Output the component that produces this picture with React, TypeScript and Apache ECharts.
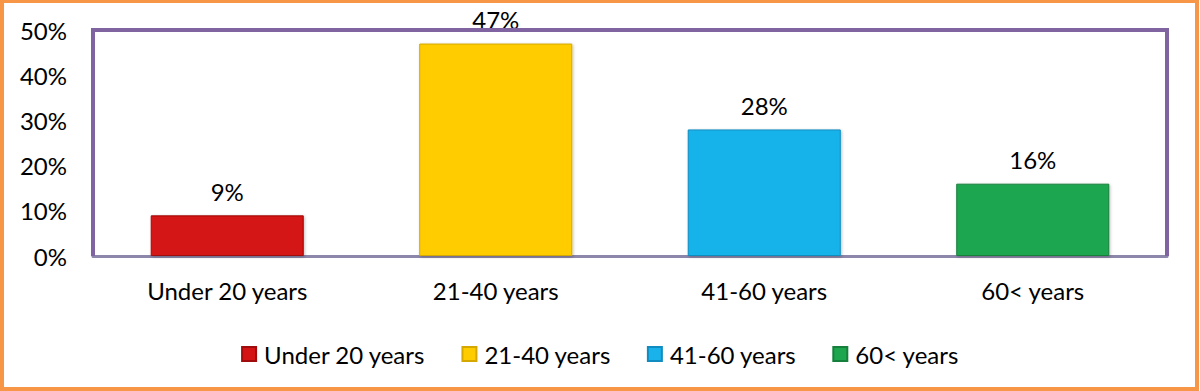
import React, { useEffect, useRef } from "react";
import * as echarts from "echarts";

const categories = ["Under 20 years", "21-40 years", "41-60 years", "60< years"];
const values = [9, 47, 28, 16];
const colors = ["#d41414", "#ffcc00", "#19b2ea", "#1ea64f"];
const borderColors = ["#a00c0c", "#d4a800", "#118cc0", "#15803b"];
const yTicks = [0, 10, 20, 30, 40, 50];

const FONT = "Lato";
const FS = 24;

export default function App() {
  const ref = useRef<HTMLDivElement>(null);
  useEffect(() => {
    if (!ref.current) return;
    const chart = echarts.init(ref.current, null, { renderer: "svg" });
    const gL = 93, gR = 1167, gT = 30, gB = 256;
    const series = categories.map((name, i) => ({
      name,
      type: "bar",
      stack: "all",
      barWidth: "57%",
      data: categories.map((_, j) => (j === i ? values[i] : "-")),
      itemStyle: {
        color: colors[i],
        borderColor: borderColors[i],
        borderWidth: 1,
        shadowColor: "rgba(0,0,0,0.25)",
        shadowBlur: 3,
        shadowOffsetX: 1,
        shadowOffsetY: 1,
      },
      label: {
        show: true,
        position: "top",
        distance: 12,
        formatter: "{c}%",
        fontFamily: FONT,
        fontSize: FS,
        color: "#000",
      },
    }));
    chart.setOption({
      animation: false,
      backgroundColor: "#fff",
      color: colors,
      grid: { left: gL, right: 1200 - gR, top: gT, bottom: 391 - gB, containLabel: false },
      xAxis: {
        type: "category",
        data: categories,
        axisTick: { show: false },
        axisLine: { show: true, lineStyle: { color: "#8d88ab", width: 3 } },
        axisLabel: { fontFamily: FONT, fontSize: FS, color: "#000", margin: 22 },
      },
      yAxis: {
        type: "value",
        min: yTicks[0],
        max: yTicks[yTicks.length - 1],
        interval: 10,
        splitLine: { show: false },
        axisLine: { show: false },
        axisTick: { show: false },
        axisLabel: { formatter: "{value}%", fontFamily: FONT, fontSize: FS, color: "#000", margin: 26 },
      },
      legend: {
        data: categories,
        left: "center",
        top: 337,
        itemWidth: 14,
        itemHeight: 14,
        itemGap: 36,
        icon: "rect",
        textStyle: { fontFamily: FONT, fontSize: FS, color: "#000", padding: [0, 0, 0, 3] },
      },
      graphic: [
        {
          type: "polyline",
          shape: { points: [[gL, gB], [gL, gT], [gR, gT], [gR, gB]] },
          style: { stroke: "#8064a2", lineWidth: 4, fill: null },
          z: 100,
        },
        {
          type: "rect",
          shape: { x: 2, y: 1, width: 1195, height: 388 },
          style: { stroke: "#f79646", lineWidth: 4, fill: null },
          z: 100,
        },
      ],
      series,
    });
    return () => chart.dispose();
  }, []);
  return (
    <div
      ref={ref}
      style={{ position: "fixed", left: 0, top: 0, width: 1200, height: 391 }}
    />
  );
}
